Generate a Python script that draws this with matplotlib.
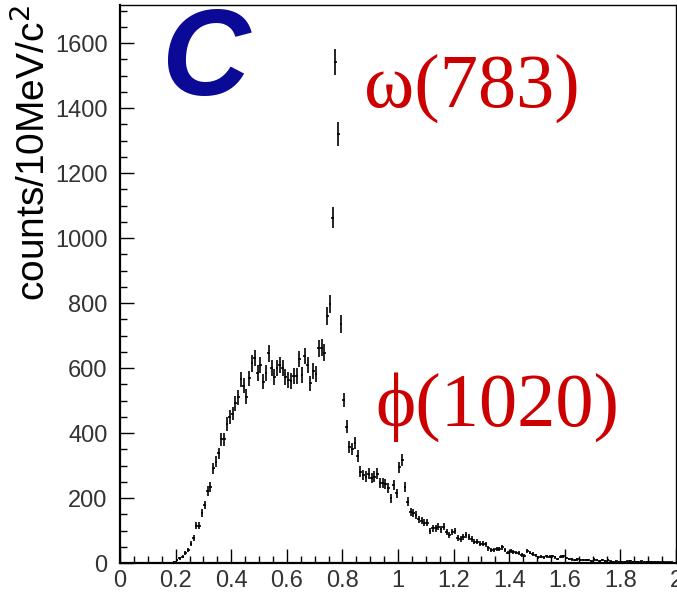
import numpy as np
import matplotlib
matplotlib.use("Agg")
import matplotlib.pyplot as plt
from matplotlib.ticker import MultipleLocator

# histogram: 10 MeV bins, first filled bin starts at 0.18 GeV
bin_width = 0.01
first_edge = 0.18
counts = [
    1, 3, 8, 14, 20, 30, 40, 60, 76, 114,
    114, 153, 178, 222, 235, 291, 312, 337, 381, 381,
    428, 450, 460, 491, 510, 565, 545, 512, 568, 614,
    630, 584, 609, 558, 584, 645, 599, 573, 599, 609,
    599, 573, 563, 560, 576, 576, 627, 578, 637, 609,
    553, 592, 581, 661, 663, 647, 760, 797, 1062, 1542,
    1320, 735, 502, 420, 356, 350, 370, 330, 281, 271,
    266, 275, 261, 266, 275, 247, 247, 243, 230, 199,
    240, 214, 294, 317, 235, 189, 158, 153, 148, 134,
    130, 124, 124, 99, 107, 107, 112, 104, 112, 96,
    86, 96, 99, 76, 73, 79, 86, 79, 73, 66,
    66, 60, 60, 58, 45, 40, 40, 42, 42, 48,
    40, 32, 38, 35, 32, 30, 25, 22, 38, 32,
    28, 24, 17, 20, 18, 21, 19, 21, 17, 13,
    19, 21, 15, 12, 11, 9, 11, 9, 10, 8,
    9, 7, 11, 9, 7, 9, 6, 8, 5, 4,
    5, 4, 4, 3, 5, 6, 4, 4, 3, 5,
    4, 3, 3, 3, 3, 3, 2, 3, 2, 2,
    2, 1,
]
x_ticks = [0, 0.2, 0.4, 0.6, 0.8, 1, 1.2, 1.4, 1.6, 1.8, 2]
x_ticklabels = ["0", "0.2", "0.4", "0.6", "0.8", "1", "1.2", "1.4", "1.6", "1.8", "2"]
y_ticks = [0, 200, 400, 600, 800, 1000, 1200, 1400, 1600]

counts = np.array(counts, dtype=float)
centers = first_edge + bin_width * (np.arange(len(counts)) + 0.5)
errors = np.sqrt(counts)

fig = plt.figure(figsize=(6.77, 5.92), dpi=100)
ax = fig.add_axes([120 / 677, 29 / 592, 556 / 677, 558 / 592])

ax.errorbar(centers, counts, xerr=bin_width / 2, yerr=errors, fmt='none',
            ecolor='black', elinewidth=1.2, capsize=0)

ax.set_xlim(0, 2)
ax.set_ylim(0, 1717)
ax.set_xticks(x_ticks)
ax.set_xticklabels(x_ticklabels)
ax.set_yticks(y_ticks)
ax.xaxis.set_minor_locator(MultipleLocator(0.05))
ax.yaxis.set_minor_locator(MultipleLocator(50))
ax.tick_params(which='both', direction='in', top=False, right=False,
               labelsize=17, colors='black', width=1)
ax.tick_params(which='major', length=10)
ax.tick_params(which='minor', length=5)
ax.tick_params(axis='y', pad=9)
ax.tick_params(axis='x', pad=5)
for lab in ax.get_xticklabels() + ax.get_yticklabels():
    lab.set_fontfamily('Liberation Sans')
    lab.set_color('#333333')
for side in ['left', 'bottom']:
    ax.spines[side].set_linewidth(1.6)
for side in ['top', 'right']:
    ax.spines[side].set_linewidth(1.0)

ax.set_ylabel("counts/10MeV/c$^2$", fontsize=28, family='Liberation Sans',
              loc='top', labelpad=1)

# panel letter and resonance labels
fig.text(0.303, 0.893, "C", fontsize=88, fontweight='bold', fontstyle='italic',
         family='Liberation Sans', color='#0a0a96', ha='center', va='center')
fig.text(0.697, 0.851, "ω(783)", fontsize=55, family='Liberation Serif',
         color='#cc0000', ha='center', va='center')
fig.text(0.734, 0.3125, "ϕ(1020)", fontsize=55, family=['Liberation Serif', 'DejaVu Serif'],
         color='#cc0000', ha='center', va='center')

fig.savefig("out.png", dpi=100)
